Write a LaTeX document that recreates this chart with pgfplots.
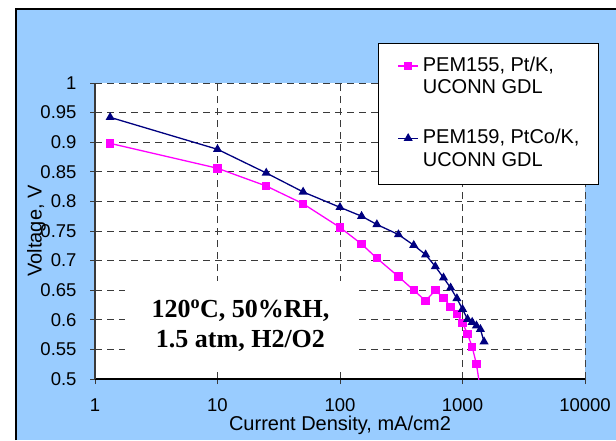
\documentclass[border=0pt]{standalone}
\usepackage{fontspec}
\setmainfont{Liberation Sans}
\newfontfamily\annfont{Liberation Serif}
\usepackage{pgfplots}
\pgfplotsset{compat=1.18}
\definecolor{bgblue}{HTML}{99CCFF}
\definecolor{pemPink}{HTML}{FF00FF}
\definecolor{pemNavy}{HTML}{000080}
\definecolor{gridgray}{HTML}{3A3A3A}
\begin{document}
\begin{tikzpicture}[x=1pt,y=1pt]
\useasboundingbox (0,0) rectangle (616,440);
\fill[bgblue] (16,0) rectangle (616,431);
\draw[black, line width=2pt] (16,0) -- (16,431) -- (616,431);
\begin{axis}[
  at={(95pt,61pt)}, anchor=south west,
  scale only axis, width=490pt, height=296pt,
  xmode=log, log basis x=10,
  xmin=1, xmax=10000, ymin=0.5, ymax=1,
  xtick={1,10,100,1000,10000},
  xticklabels={1,10,100,1000,10000},
  ytick={0.5,0.55,0.6,0.65,0.7,0.75,0.8,0.85,0.9,0.95,1},
  yticklabels={0.5,0.55,0.6,0.65,0.7,0.75,0.8,0.85,0.9,0.95,1},
  /pgf/number format/assume math mode=true,
  grid=major,
  major grid style={gridgray, dash pattern=on 7pt off 5pt, line width=0.9pt},
  axis x line*=bottom, axis y line*=left,
  x axis line style={-, black, line width=1.3pt},
  y axis line style={-, gridgray, line width=2pt},
  tick align=outside, major tick length=5pt,
  tick style={gridgray, line width=1pt},
  axis background/.style={fill=white},
  tick label style={font=\fontsize{18.5}{20}\selectfont},
  xticklabel style={yshift=-11pt},
  yticklabel style={xshift=-10pt},
  xlabel={Current Density, mA/cm2},
  ylabel={Voltage, V},
  label style={font=\fontsize{20}{22}\selectfont},
  xlabel style={at={(axis description cs:0.5,-0.1745)}, anchor=base},
  ylabel style={at={(axis description cs:-0.1088,0.5)}, anchor=base},
  legend cell align=left,
  legend style={at={(axis description cs:0.5776,1.135)}, anchor=north west,
    draw=black, line width=1pt, fill=white,
    font=\fontsize{20}{22.6}\selectfont,
    inner xsep=19pt, inner ysep=12pt, row sep=27pt, column sep=4pt,
    nodes={inner sep=0pt, text depth=}},
  legend image code/.code={
    \path[draw=none, fill=none] (0pt,-12pt) -- (20pt,-12pt);
    \draw[mark repeat=2,mark phase=2] plot coordinates {(0pt,12pt) (10pt,12pt) (20pt,12pt)};},
]
\addplot[pemPink, line width=1.3pt, mark=square*, mark size=3.6pt, mark options={solid}] coordinates {
(1.33,0.898) (10,0.856) (25,0.826) (50,0.796) (100,0.756) (150,0.728) (200,0.704)
(300,0.673) (400,0.650) (500,0.632) (600,0.650) (700,0.637) (800,0.622) (900,0.610)
(1000,0.595) (1100,0.576) (1200,0.554) (1300,0.525)};
\addlegendentry{\begin{tabular}{@{}l@{}}PEM155, Pt/K,\\UCONN GDL\end{tabular}}
\addplot[pemNavy, line width=1.3pt, mark=triangle*, mark size=4pt, mark options={solid}] coordinates {
(1.33,0.942) (10,0.888) (25,0.848) (50,0.816) (100,0.790) (150,0.775) (200,0.761)
(300,0.744) (400,0.726) (500,0.710) (600,0.690) (700,0.671) (800,0.654) (900,0.636)
(1000,0.618) (1100,0.601) (1200,0.596) (1300,0.590) (1400,0.584) (1500,0.563)};
\addlegendentry{\begin{tabular}{@{}l@{}}PEM159, PtCo/K,\\UCONN GDL\end{tabular}}
\addplot[pemPink, line width=1.3pt, forget plot] coordinates {(1300,0.525) (1380,0.49)};
\draw[gray, line width=1pt] (rel axis cs:1,0) -- (rel axis cs:1,1);
\node[fill=white, minimum width=231pt, minimum height=88pt, align=center, inner sep=0pt,
  font=\annfont\bfseries\fontsize{26}{30}\selectfont] at (axis cs:15.4,0.5905)
  {120\textsuperscript{o}C, 50\%RH,\\1.5 atm, H2/O2};
\end{axis}
\end{tikzpicture}
\end{document}
